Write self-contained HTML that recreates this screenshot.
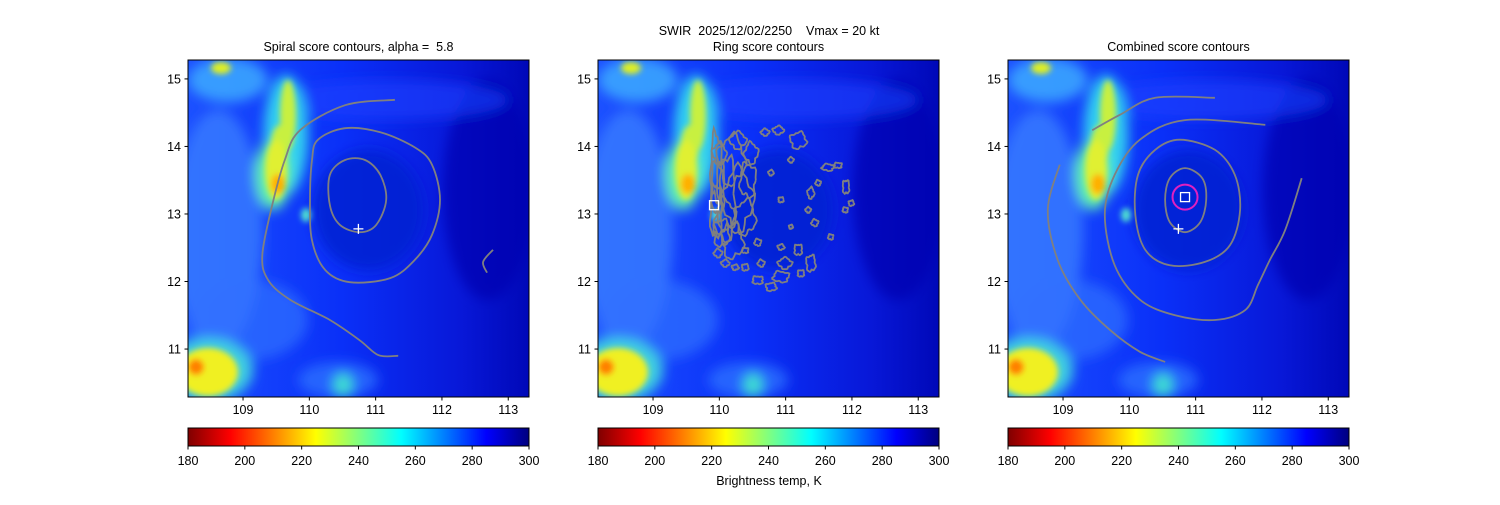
<!DOCTYPE html>
<html><head><meta charset="utf-8"><style>
html,body{margin:0;padding:0;background:#fff}
svg text{font-family:"Liberation Sans","DejaVu Sans",sans-serif;fill:#000;white-space:pre}
</style></head><body>
<svg id="fig" width="1500" height="500" xmlns="http://www.w3.org/2000/svg">
<defs>
<filter id="blur6" x="-30%" y="-30%" width="160%" height="160%"><feGaussianBlur stdDeviation="6"/></filter>
<filter id="blur3" x="-30%" y="-30%" width="160%" height="160%"><feGaussianBlur stdDeviation="3"/></filter>
<linearGradient id="jetr" x1="0" x2="1" y1="0" y2="0">
<stop offset="0" stop-color="#7f0000"/><stop offset="0.125" stop-color="#ff0000"/>
<stop offset="0.375" stop-color="#ffff00"/><stop offset="0.5" stop-color="#80ff80"/>
<stop offset="0.625" stop-color="#00ffff"/><stop offset="0.875" stop-color="#0000ff"/>
<stop offset="1" stop-color="#00007f"/></linearGradient>
<linearGradient id="baseg" x1="0" x2="1" y1="0" y2="0">
<stop offset="0" stop-color="#1c50ff"/><stop offset="0.45" stop-color="#0a30f8"/><stop offset="0.8" stop-color="#0818d8"/><stop offset="1" stop-color="#0008b8"/></linearGradient>
<clipPath id="axclip"><rect x="0" y="0" width="341" height="337"/></clipPath>
<g id="bg"><g clip-path="url(#axclip)">
<rect x="0" y="0" width="341" height="337" fill="url(#baseg)"/>
<g filter="url(#blur6)">
<ellipse cx="30" cy="170" rx="45" ry="120" fill="#3a7cff" opacity="0.8"/>
<ellipse cx="60" cy="260" rx="60" ry="40" fill="#3070ff" opacity="0.7"/>
<ellipse cx="40" cy="20" rx="40" ry="22" fill="#40b0ff" opacity="0.8"/>
<ellipse cx="180" cy="150" rx="55" ry="60" fill="#0820d0" opacity="0.8"/>
<ellipse cx="300" cy="130" rx="45" ry="110" fill="#0008b0" opacity="0.7"/>
<ellipse cx="200" cy="40" rx="120" ry="20" fill="#1a40ff" opacity="0.6"/>
<ellipse cx="150" cy="320" rx="40" ry="18" fill="#2c70ff" opacity="0.8"/>
<ellipse cx="155" cy="325" rx="10" ry="12" fill="#40e0d0"/>
<ellipse cx="98" cy="75" rx="22" ry="60" fill="#30d0f0"/>
<ellipse cx="85" cy="115" rx="18" ry="35" fill="#60f0b0"/>
<ellipse cx="20" cy="310" rx="45" ry="32" fill="#40d0e0"/>
</g>
<g filter="url(#blur3)">
<ellipse cx="100" cy="55" rx="8" ry="35" fill="#c8f040"/>
<ellipse cx="92" cy="85" rx="9" ry="20" fill="#c8f040"/>
<ellipse cx="88" cy="110" rx="11" ry="30" fill="#e0f030"/>
<ellipse cx="90" cy="124" rx="7" ry="10" fill="#ffb000"/>
<ellipse cx="20" cy="312" rx="30" ry="24" fill="#f0f020"/>
<ellipse cx="8" cy="307" rx="8" ry="8" fill="#ff8000"/>
<ellipse cx="33" cy="8" rx="10" ry="6" fill="#e0f020"/>
<ellipse cx="118" cy="155" rx="5" ry="7" fill="#50e0d0"/>
</g>
</g></g>
</defs>
<g id="panels"></g>
<text x="769" y="35" text-anchor="middle" font-size="12.5">SWIR  2025/12/02/2250    Vmax = 20 kt</text>
<text x="769" y="485" text-anchor="middle" font-size="12.5">Brightness temp, K</text>
</svg>
<script>
const NS='http://www.w3.org/2000/svg';
const xTicks=[109,110,111,112,113];
const yTicks=[11,12,13,14,15];
const cbTicks=[180,200,220,240,260,280,300];
const panelTitles=['Spiral score contours, alpha =  5.8','Ring score contours','Combined score contours'];
const centerCross=[110.74,12.78];
const spiralInnerLon=[110.31,110.54,110.84,111.07,111.16,111.01,110.76,110.46,110.31,110.31];
const spiralInnerLat=[13.58,13.80,13.80,13.58,13.21,12.84,12.73,12.84,13.13,13.58];
const spiralMidLon=[110.13,110.54,111.07,111.60,111.85,111.97,111.85,111.59,111.22,110.61,110.24,110.04,110.01,110.04,110.13];
const spiralMidLat=[14.10,14.27,14.21,13.98,13.73,13.21,12.69,12.32,12.05,11.99,12.17,12.61,13.21,13.80,14.10];
const spiralOuterLon=[111.29,110.54,109.86,109.63,109.44,109.29,109.38,109.71,110.31,110.76,111.04,111.34];
const spiralOuterLat=[14.69,14.61,14.24,13.80,13.13,12.39,12.02,11.73,11.43,11.13,10.91,10.90];
const spiralPieceLon=[112.77,112.62,112.68];
const spiralPieceLat=[12.47,12.29,12.13];
const ringLon=[111.19,110.89,110.69,111.64,111.79,111.91,111.99,111.38,111.34,111.44,111.68,111.19,111.38,110.93,110.99,110.63,110.93,110.58,110.39,110.24,110.09,109.98,110.58,110.39,110.93,111.08,110.78,111.08,111.49,111.90,111.23,110.78,
110.18,110.28,110.09,110.43,109.98,110.03,110.39,110.28,110.48,109.95,109.95,110.1,110.2,110.0];
const ringLat=[14.09,14.24,14.21,13.69,13.72,13.40,13.16,13.31,13.06,12.87,12.66,12.47,12.27,12.51,12.27,12.27,12.07,12.02,12.21,12.21,12.27,12.42,12.58,12.46,13.21,12.81,13.61,13.80,13.46,13.06,12.12,11.92,
13.80,13.21,12.91,13.50,13.40,12.72,12.95,14.09,13.90,13.70,13.05,13.3,12.6,13.9];
const ringRx=[0.12,0.08,0.06,0.09,0.06,0.05,0.04,0.05,0.04,0.05,0.04,0.06,0.07,0.05,0.1,0.05,0.12,0.08,0.05,0.05,0.06,0.06,0.05,0.05,0.04,0.03,0.04,0.04,0.04,0.04,0.05,0.08,
0.2,0.22,0.15,0.12,0.1,0.12,0.15,0.12,0.1,0.08,0.09,0.14,0.16,0.1];
const ringRy=[0.12,0.06,0.05,0.05,0.04,0.1,0.04,0.08,0.04,0.05,0.04,0.08,0.12,0.04,0.08,0.05,0.08,0.06,0.05,0.04,0.05,0.06,0.05,0.04,0.04,0.03,0.04,0.04,0.04,0.04,0.05,0.06,
0.35,0.45,0.3,0.25,0.4,0.2,0.25,0.12,0.15,0.5,0.4,0.55,0.25,0.15];
const ringSquare=[109.92,13.13];
const combInnerLon=[110.84,111.10,111.16,111.07,110.84,110.61,110.54,110.61,110.84];
const combInnerLat=[13.68,13.53,13.21,12.88,12.73,12.88,13.21,13.53,13.68];
const combMidLon=[110.76,111.29,111.59,111.67,111.52,111.14,110.61,110.24,110.09,110.13,110.39,110.76];
const combMidLat=[14.10,13.95,13.58,13.06,12.54,12.29,12.24,12.47,12.99,13.58,13.95,14.10];
const combThirdLon=[112.05,110.84,110.16,109.78,109.63,109.78,110.16,110.69,111.29,111.75,111.94,112.12,112.35,112.60];
const combThirdLat=[14.32,14.39,14.10,13.58,12.99,12.24,11.73,11.50,11.43,11.58,11.95,12.32,12.76,13.53];
const combOuterLon=[111.29,110.39,109.86,109.44];
const combOuterLat=[14.72,14.72,14.47,14.24];
const combLeftLon=[108.95,108.77,108.92,109.26,109.71,110.16,110.54];
const combLeftLat=[13.73,13.06,12.32,11.73,11.28,10.96,10.81];
const combCenter=[110.84,13.25];

const LON0=108.17,LON1=113.313,LAT0=10.29,LAT1=15.28,W=341,H=337,TOP=60;
const lefts=[188,598,1008];
const root=document.getElementById('panels');
function mk(tag,attrs,parent){const e=document.createElementNS(NS,tag);for(const k in attrs)e.setAttribute(k,attrs[k]);(parent||root).appendChild(e);return e;}
function sx(lon){return (lon-LON0)/(LON1-LON0)*W;}
function sy(lat){return (LAT1-lat)/(LAT1-LAT0)*H;}
function smooth(pts,closed){
  let d='M'+pts[0][0].toFixed(1)+' '+pts[0][1].toFixed(1);
  const n=pts.length;
  const P=i=>{if(closed){return pts[(i+n-1)%(n-1)];}return pts[Math.max(0,Math.min(n-1,i))];};
  for(let i=0;i<n-1;i++){
    const p0=P(i-1),p1=pts[i],p2=pts[i+1],p3=P(i+2);
    const c1=[p1[0]+(p2[0]-p0[0])/6,p1[1]+(p2[1]-p0[1])/6];
    const c2=[p2[0]-(p3[0]-p1[0])/6,p2[1]-(p3[1]-p1[1])/6];
    d+=`C${c1[0].toFixed(1)} ${c1[1].toFixed(1)} ${c2[0].toFixed(1)} ${c2[1].toFixed(1)} ${p2[0].toFixed(1)} ${p2[1].toFixed(1)}`;
  }
  return d;
}
function line(g,lons,lats,name){
  const pts=lons.map((v,i)=>[sx(v),sy(lats[i])]);
  const closed=lons[0]===lons[lons.length-1]&&lats[0]===lats[lats.length-1];
  const p=mk('path',{d:smooth(pts,closed),fill:'none',stroke:'#808080','stroke-width':1.8,'stroke-linejoin':'round'},g);
  
  
}
function cross(g,c){
  const x=sx(c[0]),y=sy(c[1]);
  const p=mk('path',{d:`M${x-5} ${y}H${x+5}M${x} ${y-5}V${y+5}`,stroke:'#fff','stroke-width':1.3},g);
  
  
}
function square(g,c){
  const x=sx(c[0]),y=sy(c[1]);
  const r=mk('rect',{x:x-4.5,y:y-4.5,width:9,height:9,fill:'none',stroke:'#fff','stroke-width':1.3},g);
  
  
}
lefts.forEach((L,pi)=>{
  const pg=mk('g',{transform:`translate(${L},${TOP})`});
  
  
  const img=mk('use',{href:'#bg'},pg);
  
  
  const g=mk('g',{'clip-path':'url(#axclip)'},pg);
  if(pi===0){
    line(g,spiralInnerLon,spiralInnerLat,'contour-inner');
    line(g,spiralMidLon,spiralMidLat,'contour-middle');
    line(g,spiralOuterLon,spiralOuterLat,'contour-outer');
    line(g,spiralPieceLon,spiralPieceLat,'contour-fragment');
    cross(g,centerCross);
  } else if(pi===1){
    ringLon.forEach((lon,i)=>{
      const cx=sx(lon),cy=sy(ringLat[i]),rx=ringRx[i]*66.3,ry=ringRy[i]*67.5;
      let d='';const n=36;
      for(let k=0;k<=n;k++){const a=k/n*Math.PI*2;const m=1+0.15*Math.sin(a*4+i)+0.08*Math.sin(a*9+2*i);d+=(k?'L':'M')+(cx+rx*m*Math.cos(a)).toFixed(1)+' '+(cy+ry*m*Math.sin(a)).toFixed(1);}
      const p=mk('path',{d:d,fill:'none',stroke:'#808080','stroke-width':1.8},g);
      
      
    });
    square(g,ringSquare);
  } else {
    line(g,combInnerLon,combInnerLat,'contour-inner');
    line(g,combMidLon,combMidLat,'contour-middle');
    line(g,combThirdLon,combThirdLat,'contour-third');
    line(g,combOuterLon,combOuterLat,'contour-outer-top');
    line(g,combLeftLon,combLeftLat,'contour-outer-left');
    const c=mk('circle',{cx:sx(combCenter[0]),cy:sy(combCenter[1]),r:12.5,fill:'none',stroke:'#e020c0','stroke-width':2},g);
    
    
    square(g,combCenter);
    cross(g,centerCross);
  }
  const fr=mk('rect',{x:0,y:0,width:W,height:H,fill:'none',stroke:'#000','stroke-width':1},pg);
  
  
  xTicks.forEach(t=>{
    const x=sx(t);
    mk('line',{x1:x,x2:x,y1:H,y2:H+3.5,stroke:'#000'},pg);
    const tx=mk('text',{x:x,y:H+17,'text-anchor':'middle','font-size':12.5},pg);
    tx.textContent=t;
    
    
  });
  yTicks.forEach(t=>{
    const y=sy(t);
    mk('line',{x1:0,x2:-3.5,y1:y,y2:y,stroke:'#000'},pg);
    const tx=mk('text',{x:-7,y:y+4.5,'text-anchor':'end','font-size':12.5},pg);
    tx.textContent=t;
    
    
  });
  const ti=mk('text',{x:W/2,y:-9,'text-anchor':'middle','font-size':12.5},pg);
  ti.textContent=panelTitles[pi];
  
  
  const cb=mk('g',{transform:`translate(0,${428-TOP})`},pg);
  
  
  mk('rect',{x:0,y:0,width:W,height:18,fill:'url(#jetr)',stroke:'#000','stroke-width':1},cb);
  cbTicks.forEach(t=>{
    const x=(t-180)/120*W;
    mk('line',{x1:x,x2:x,y1:18,y2:21.5,stroke:'#000'},cb);
    const tx=mk('text',{x:x,y:37,'text-anchor':'middle','font-size':12.5},cb);
    tx.textContent=t;
    
    
  });
});
</script>
</body></html>
